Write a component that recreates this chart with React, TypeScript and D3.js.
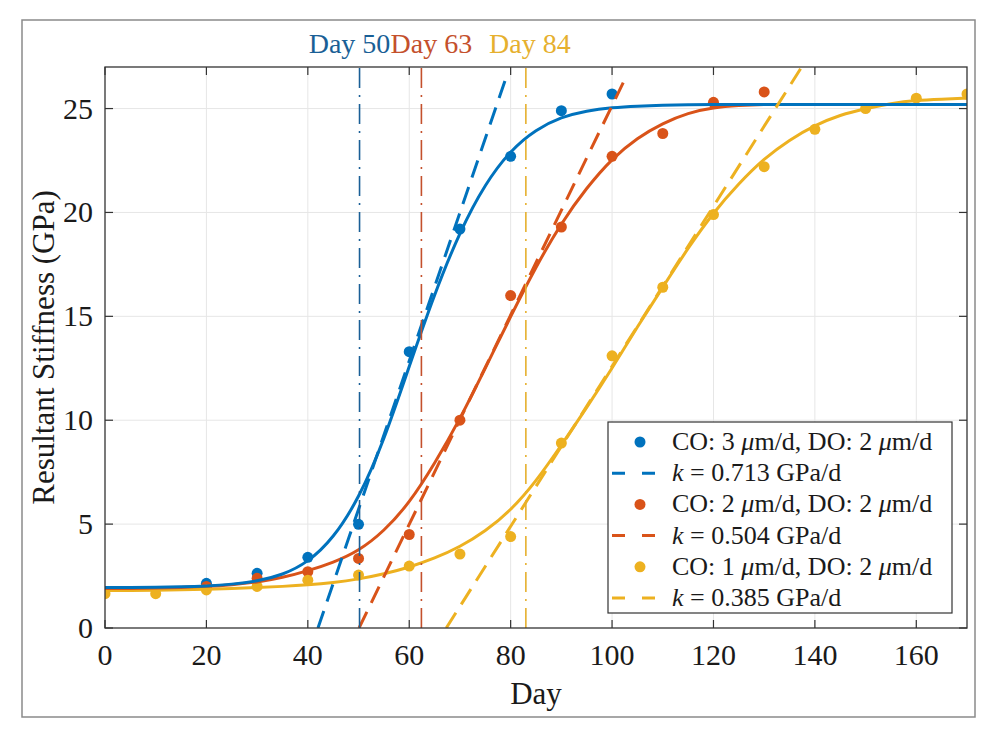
import React from 'react';
import * as d3 from 'd3';

// measured points (day, GPa)
const blueDays = [20, 30, 40, 50, 60, 70, 80, 90, 100];
const blueVals = [2.15, 2.63, 3.4, 4.99, 13.3, 19.2, 22.7, 24.9, 25.7];
const redDays = [20, 30, 40, 50, 60, 70, 80, 90, 100, 110, 120, 130];
const redVals = [2.0, 2.39, 2.71, 3.35, 4.5, 10.0, 16.0, 19.3, 22.7, 23.8, 25.3, 25.8];
const yellowDays = [0, 10, 20, 30, 40, 50, 60, 70, 80, 90, 100, 110, 120, 130, 140, 150, 160, 170];
const yellowVals = [1.65, 1.65, 1.83, 2.0, 2.3, 2.55, 2.98, 3.56, 4.4, 8.9, 13.1, 16.4, 19.9, 22.2, 24.0, 25.0, 25.5, 25.7];

// fitted curves, read every 5 days from 0 to 170
const fitDays = d3.range(0, 171, 5);
const blueFit = [1.95, 1.95, 1.96, 1.98, 2.02, 2.1, 2.25, 2.55, 3.15, 4.3, 6.2, 9.0, 12.6, 16.1, 19.1, 21.4, 23.0, 24.0, 24.6, 24.9, 25.05, 25.12, 25.16, 25.18, 25.2, 25.2, 25.2, 25.2, 25.2, 25.2, 25.2, 25.2, 25.2, 25.2, 25.2];
const redFit = [1.9, 1.9, 1.92, 1.95, 2.0, 2.08, 2.2, 2.42, 2.75, 3.15, 3.7, 4.65, 6.0, 7.9, 10.05, 12.5, 15.0, 17.4, 19.5, 21.2, 22.6, 23.6, 24.3, 24.8, 25.05, 25.15, 25.2, 25.2, 25.2, 25.2, 25.2, 25.2, 25.2, 25.2, 25.2];
const yellowFit = [1.8, 1.8, 1.82, 1.84, 1.87, 1.9, 1.95, 2.0, 2.07, 2.18, 2.35, 2.6, 2.92, 3.35, 3.9, 4.65, 5.65, 7.05, 8.8, 10.6, 12.5, 14.5, 16.4, 18.3, 20.0, 21.4, 22.6, 23.5, 24.2, 24.7, 25.0, 25.25, 25.4, 25.45, 25.5];

// tangent lines: start and end [day, GPa]
const tangentLines: [number, number][][] = [
  [[42.0, 0], [79.4, 26.7]],
  [[50.1, 0], [102.5, 26.4]],
  [[67.3, 0], [137.4, 27.0]],
];
const slopes = ['0.713', '0.504', '0.385'];

const markerDays = [50.2, 62.4, 83];
const markerLabels = ['Day 50', 'Day 63', 'Day 84'];

const legendLabels = [
  ['CO: 3 ', 'μ', 'm/d, DO: 2 ', 'μ', 'm/d'],
  ['CO: 2 ', 'μ', 'm/d, DO: 2 ', 'μ', 'm/d'],
  ['CO: 1 ', 'μ', 'm/d, DO: 2 ', 'μ', 'm/d'],
];

const xTicks = [0, 20, 40, 60, 80, 100, 120, 140, 160];
const yTicks = [0, 5, 10, 15, 20, 25];

const colors = ['#0072BD', '#D95319', '#EDB120'];
const labelColors = ['#1a5f96', '#c4502c', '#e6b02e'];
const font = "'Liberation Serif', 'Times New Roman', serif";

const App = () => {
  const left = 105;
  const right = 967;
  const top = 67;
  const bottom = 628;

  const x = d3.scaleLinear().domain([0, 170]).range([left, right]);
  const y = d3.scaleLinear().domain([0, 27]).range([bottom, top]);

  const fitLine = d3
    .line<number>()
    .x((_, i) => x(fitDays[i]))
    .y((d) => y(d))
    .curve(d3.curveBasis);

  const straight = d3
    .line<[number, number]>()
    .x((d) => x(d[0]))
    .y((d) => y(d[1]));

  const points = [
    { days: blueDays, vals: blueVals },
    { days: redDays, vals: redVals },
    { days: yellowDays, vals: yellowVals },
  ];
  const fits = [blueFit, redFit, yellowFit];

  const legendTop = 422;
  const rowH = 31.2;

  return (
    <svg
      width={985}
      height={735}
      style={{ position: 'absolute', left: 0, top: 0, background: '#fff' }}
      fontFamily={font}
    >
      <rect x={22} y={20} width={953} height={697} fill="#fff" stroke="#8a8a8a" strokeWidth={1.5} />
      <defs>
        <clipPath id="plot-clip">
          <rect x={left} y={top} width={right - left} height={bottom - top} />
        </clipPath>
      </defs>

      {/* grid */}
      {xTicks
        .filter((t) => t > 0)
        .map((t) => (
          <line key={'gx' + t} x1={x(t)} x2={x(t)} y1={top} y2={bottom} stroke="#e6e6e6" strokeWidth={1} />
        ))}
      {yTicks
        .filter((t) => t > 0)
        .map((t) => (
          <line key={'gy' + t} x1={left} x2={right} y1={y(t)} y2={y(t)} stroke="#e6e6e6" strokeWidth={1} />
        ))}

      <g clipPath="url(#plot-clip)">
        {/* points */}
        {points.map((s, si) =>
          s.days.map((d, i) => (
            <circle key={'p' + si + '-' + i} cx={x(d)} cy={y(s.vals[i])} r={5.5} fill={colors[si]} />
          ))
        )}
        {/* fitted curves */}
        {[2, 1, 0].map((si) => (
          <path key={'f' + si} d={fitLine(fits[si]) || ''} fill="none" stroke={colors[si]} strokeWidth={3} />
        ))}
        {/* tangents */}
        {tangentLines.map((seg, si) => (
          <path
            key={'t' + si}
            d={straight(seg) || ''}
            fill="none"
            stroke={colors[si]}
            strokeWidth={3}
            strokeDasharray="18,10"
          />
        ))}
        {/* day markers */}
        {markerDays.map((d, si) => (
          <line
            key={'v' + si}
            x1={x(d)}
            x2={x(d)}
            y1={y(0)}
            y2={y(27)}
            stroke={labelColors[si]}
            strokeWidth={1.6}
            strokeDasharray="20,7,2,7"
          />
        ))}
      </g>

      {/* axes box */}
      <rect x={left} y={top} width={right - left} height={bottom - top} fill="none" stroke="#333" strokeWidth={1.3} />
      {xTicks.map((t) => (
        <g key={'xt' + t}>
          <line x1={x(t)} x2={x(t)} y1={bottom} y2={bottom - 8} stroke="#333" strokeWidth={1.2} />
          <line x1={x(t)} x2={x(t)} y1={top} y2={top + 8} stroke="#333" strokeWidth={1.2} />
          <text x={x(t)} y={665} textAnchor="middle" fontSize={30} fill="#1a1a1a">
            {t}
          </text>
        </g>
      ))}
      {yTicks.map((t) => (
        <g key={'yt' + t}>
          <line x1={left} x2={left + 8} y1={y(t)} y2={y(t)} stroke="#333" strokeWidth={1.2} />
          <line x1={right} x2={right - 8} y1={y(t)} y2={y(t)} stroke="#333" strokeWidth={1.2} />
          <text x={93} y={y(t) + 10} textAnchor="end" fontSize={30} fill="#1a1a1a">
            {t}
          </text>
        </g>
      ))}

      <text x={(left + right) / 2} y={704} textAnchor="middle" fontSize={31} fill="#1a1a1a">
        Day
      </text>
      <text
        transform={`translate(54,${(top + bottom) / 2}) rotate(-90)`}
        textAnchor="middle"
        fontSize={31}
        fill="#1a1a1a"
      >
        Resultant Stiffness (GPa)
      </text>

      {/* day labels */}
      {markerDays.map((d, si) => (
        <text
          key={'ml' + si}
          x={x(d) + [-10, 10, 4][si]}
          y={53}
          textAnchor="middle"
          fontSize={28}
          fill={labelColors[si]}
        >
          {markerLabels[si]}
        </text>
      ))}

      {/* legend */}
      <rect x={608} y={legendTop} width={344} height={191} fill="#fff" stroke="#333" strokeWidth={1.2} />
      {legendLabels.map((parts, si) => {
        const cy1 = legendTop + 20 + si * 2 * rowH;
        const cy2 = cy1 + rowH;
        return (
          <g key={'lg' + si}>
            <circle cx={640} cy={cy1} r={5.5} fill={colors[si]} />
            <text x={672} y={cy1 + 8} fontSize={26} fill="#1a1a1a">
              {parts.map((p, j) => (
                <tspan key={j} fontStyle={p === 'μ' ? 'italic' : 'normal'}>
                  {p}
                </tspan>
              ))}
            </text>
            <line x1={612} x2={655} y1={cy2} y2={cy2} stroke={colors[si]} strokeWidth={3} strokeDasharray="13,17" />
            <text x={672} y={cy2 + 8} fontSize={26} fill="#1a1a1a">
              <tspan fontStyle="italic">k</tspan>
              <tspan>{' = ' + slopes[si] + ' GPa/d'}</tspan>
            </text>
          </g>
        );
      })}
    </svg>
  );
};

export default App;
